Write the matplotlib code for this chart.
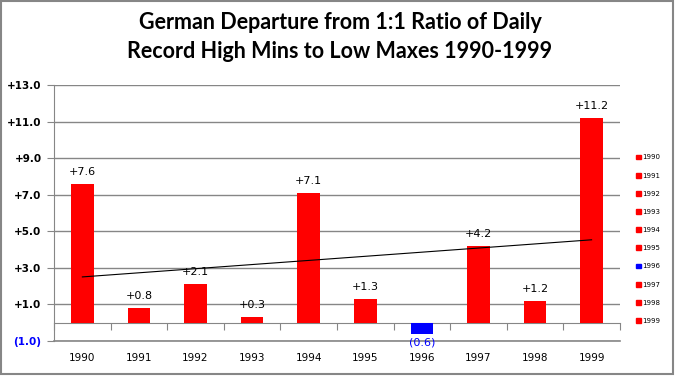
import numpy as np
import matplotlib.pyplot as plt
from matplotlib.patches import Patch, Rectangle
from matplotlib.transforms import blended_transform_factory

years = ["1990", "1991", "1992", "1993", "1994", "1995", "1996", "1997", "1998", "1999"]
values = [7.6, 0.8, 2.1, 0.3, 7.1, 1.3, -0.6, 4.2, 1.2, 11.2]
yticks = [-1, 1, 3, 5, 7, 9, 11, 13]
title = "German Departure from 1:1 Ratio of Daily\nRecord High Mins to Low Maxes 1990-1999"


def fmt(v):
    return f"({abs(v):.1f})" if v < 0 else f"+{v:.1f}"


x = np.arange(1, len(years) + 1)
colors = ["blue" if v < 0 else "red" for v in values]
grey = "#868686"

fig = plt.figure(figsize=(6.76, 3.76), dpi=100)
fig.patches.append(Rectangle((0.002, 0.004), 0.994, 0.993, transform=fig.transFigure,
                             fill=False, edgecolor=grey, linewidth=1.5))
ax = fig.add_axes([0.080, 0.093, 0.837, 0.681])

ax.bar(x, values, width=0.4, color=colors, zorder=3)

# linear trend line
k, b = np.polyfit(x, values, 1)
ax.plot(x, k * x + b, color="black", linewidth=0.8, zorder=4)

for xi, v in zip(x, values):
    if v >= 0:
        ax.annotate(fmt(v), (xi, v), xytext=(0, 5), textcoords="offset points",
                    ha="center", va="bottom", fontsize=8, zorder=5)
    else:
        ax.annotate(fmt(v), (xi, v), xytext=(0, -3), textcoords="offset points",
                    ha="center", va="top", fontsize=8, color="blue",
                    annotation_clip=False, zorder=5)

ax.set_xlim(0.5, len(years) + 0.5)
ax.set_ylim(-1, 13)
ax.set_yticks(yticks)
ax.set_yticklabels([fmt(t) for t in yticks], fontweight="bold", fontsize=7.5)
ax.get_yticklabels()[0].set_color("blue")
ax.yaxis.grid(True, color=grey, linewidth=1)
ax.axhline(-1, color=grey, linewidth=1.2, clip_on=False, zorder=1)
ax.set_axisbelow(True)
ax.tick_params(axis="y", direction="out", length=5, color=grey, pad=4)

for s in ["top", "right"]:
    ax.spines[s].set_visible(False)
ax.spines["left"].set_color(grey)
ax.spines["bottom"].set_position(("data", 0))
ax.spines["bottom"].set_color(grey)
ax.set_xticks(np.arange(0.5, len(years) + 1, 1))
ax.set_xticklabels([])
ax.tick_params(axis="x", direction="out", length=5, color=grey)

tr = blended_transform_factory(ax.transData, ax.transAxes)
for xi, yr in zip(x, years):
    ax.text(xi, -0.065, yr, transform=tr, ha="center", va="center", fontsize=7.5)

fig.text(0.503, 0.902, title, ha="center", va="center", fontsize=15.5,
         fontweight="bold", family="Lato", linespacing=1.45)

handles = [Patch(color=c) for c in colors]
fig.legend(handles, years, loc="center left", bbox_to_anchor=(0.932, 0.364),
           frameon=False, fontsize=5, handlelength=0.7, handleheight=0.7,
           handletextpad=0.2, labelspacing=1.75)

fig.savefig("out.png", dpi=100)
